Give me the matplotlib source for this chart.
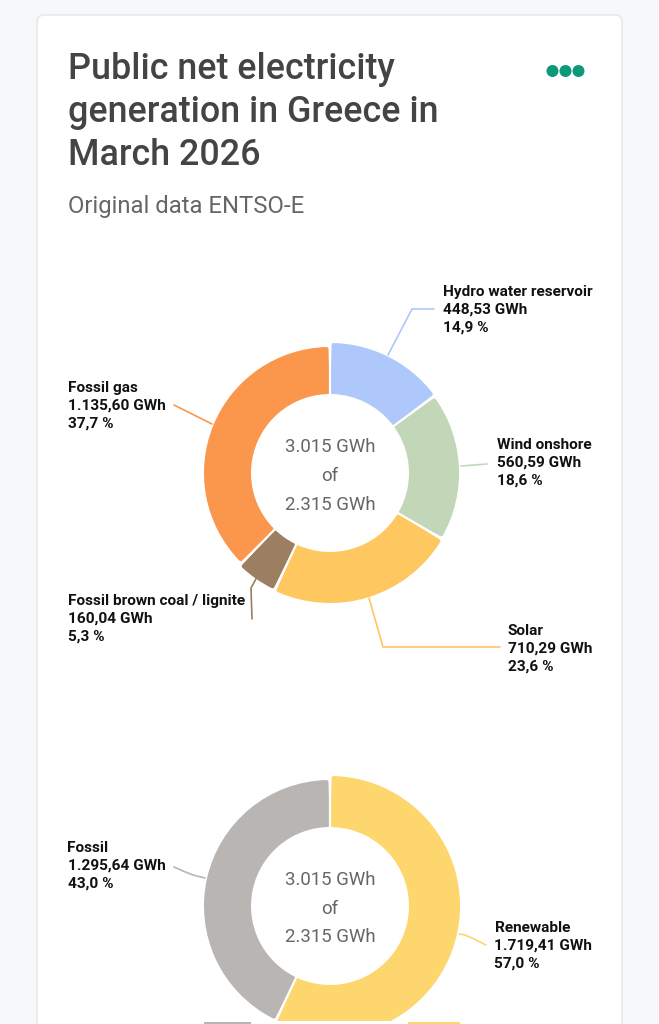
import matplotlib
matplotlib.use("Agg")
import matplotlib.pyplot as plt
import numpy as np
from matplotlib.patches import FancyBboxPatch, Rectangle, Circle

H = 1024
plt.rcParams['font.family'] = ['Roboto', 'DejaVu Sans']

# first donut
sources = ["Hydro water reservoir", "Wind onshore", "Solar", "Fossil brown coal / lignite", "Fossil gas"]
source_gwh = [448.53, 560.59, 710.29, 160.04, 1135.60]
source_gwh_text = ["448,53 GWh", "560,59 GWh", "710,29 GWh", "160,04 GWh", "1.135,60 GWh"]
source_pct_text = ["14,9 %", "18,6 %", "23,6 %", "5,3 %", "37,7 %"]
source_colors = ["#aec8fb", "#c2d7b8", "#fec760", "#9c7e60", "#fb964d"]
source_radii = [130, 129, 130, 129, 126]
source_label_xy = [(443, 292), (497, 445), (508, 631), (67.5, 601), (67.5, 388)]
source_lines = [
    [(388, 355), (412, 309), (434, 309)],
    [(461, 466), (487, 464)],
    [(369, 598), (383, 647), (500, 647)],
    [(257, 577), (251, 588), (252, 619)],
    [(174, 405), (212, 424)],
]

# second donut
groups = ["Renewable", "Fossil"]
group_gwh = [1719.41, 1295.64]
group_gwh_text = ["1.719,41 GWh", "1.295,64 GWh"]
group_pct_text = ["57,0 %", "43,0 %"]
group_colors = ["#fed66e", "#b8b5b2"]
group_radii = [130, 126]
group_label_xy = [(494.5, 928), (67.5, 848)]
group_lines = [
    [(459, 934), (465, 935), (472, 938), (486, 945)],
    [(174, 867), (183, 871), (193, 875), (205, 878)],
]

center_lines = ["3.015 GWh", "of", "2.315 GWh"]
title_lines = ["Public net electricity", "generation in Greece in", "March 2026"]
subtitle = "Original data ENTSO-E"


def py(y):
    return H - y


def donut(ax, values, colors, radii, cx, cy, clip=None):
    wedges, _ = ax.pie(values, colors=colors, center=(cx, py(cy)), radius=130,
                       startangle=90, counterclock=False, frame=True,
                       wedgeprops=dict(linewidth=2.9, joinstyle='round'))
    for w, col, r in zip(wedges, colors, radii):
        # white radial cut along the slice boundary keeps the gap even
        a = np.radians(w.theta1)
        ax.plot([cx + 70 * np.cos(a), cx + 140 * np.cos(a)],
                [py(cy) + 70 * np.sin(a), py(cy) + 140 * np.sin(a)],
                color="white", lw=1.6, zorder=3, clip_on=True)
        w.set_edgecolor(col)
        w.set_radius(r - 2)
        w.set_width(r - 2 - 81)
        w.set_theta1(w.theta1 + 1.6)
        w.set_theta2(w.theta2 - 1.6)
        if clip is not None:
            w.set_clip_on(True)
            w.set_clip_path(clip)


def labels(ax, names, gwh, pct, positions, lines, colors):
    for name, g, p, (x, y), pts, col in zip(names, gwh, pct, positions, lines, colors):
        for i, s in enumerate([name, g, p]):
            ax.text(x, py(y + i * 18), s, fontsize=11.1, fontweight='bold', color="#111111",
                    ha='left', va='center')
        ax.plot([q[0] for q in pts], [py(q[1]) for q in pts], color=col, lw=1.2,
                solid_capstyle='round')


def center_text(ax, cx, ys):
    for s, y in zip(center_lines, ys):
        ax.text(cx, py(y), s, fontsize=13.4, color="#666666", ha='center', va='center')


fig = plt.figure(figsize=(6.59, 10.24), dpi=100, facecolor="#f6f8fa")
ax = fig.add_axes([0, 0, 1, 1])

card = FancyBboxPatch((37, -40), 585, py(15) + 40, boxstyle="round,pad=0,rounding_size=7",
                      fc="white", ec="#e6e8ec", lw=1.2)
ax.add_patch(card)

donut(ax, source_gwh, source_colors, source_radii, 330, 473)
clip = Rectangle((0, py(1021)), 659, 400, transform=ax.transData)
donut(ax, group_gwh, group_colors, group_radii, 330, 906, clip=clip)

# strip at the very bottom edge of the screenshot
ax.add_patch(Rectangle((204, 0), 47, py(1022), fc=group_colors[1], ec='none'))
ax.add_patch(Rectangle((408, 0), 52, py(1022), fc=group_colors[0], ec='none'))

labels(ax, sources, source_gwh_text, source_pct_text, source_label_xy, source_lines, source_colors)
labels(ax, groups, group_gwh_text, group_pct_text, group_label_xy, group_lines, group_colors)
center_text(ax, 330, [447, 476, 505])
center_text(ax, 330, [880, 909, 937])

for s, y in zip(title_lines, [79, 122, 165]):
    ax.text(67.5, py(y), s, fontsize=25.85, fontweight='medium', color="#444444", ha='left', va='baseline')
ax.text(67.5, py(213), subtitle, fontsize=17.2, color="#666666", ha='left', va='baseline')

for x in [552.5, 565.5, 578.5]:
    ax.add_patch(Circle((x, py(71)), 6, fc="#0a9a78", ec='none'))

ax.set_xlim(0, 659)
ax.set_ylim(0, H)
ax.set_aspect('auto')
ax.axis('off')
fig.savefig("out.png", dpi=100, facecolor=fig.get_facecolor())
plt.close(fig)
